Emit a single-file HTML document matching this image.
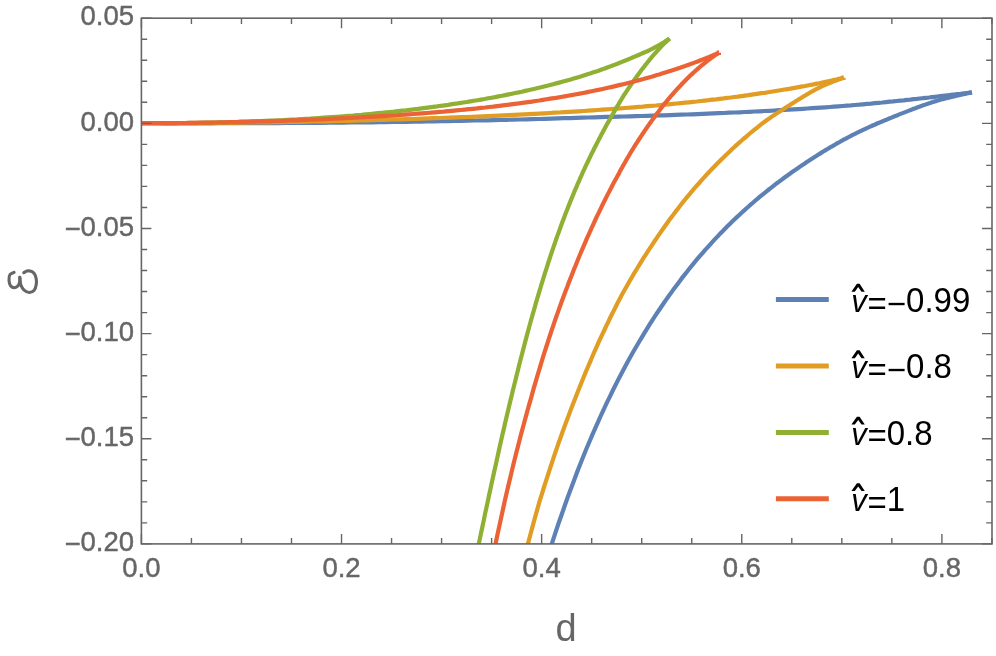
<!DOCTYPE html>
<html lang="en"><head><meta charset="utf-8"><title>E vs d plot</title>
<style>
html,body{margin:0;padding:0;background:#fff;}
body{width:996px;height:656px;overflow:hidden;font-family:"Liberation Sans",sans-serif;}
svg{display:block;will-change:transform;}
</style></head><body>
<svg width="996" height="656" viewBox="0 0 996 656">
<rect width="996" height="656" fill="#ffffff"/>
<defs><clipPath id="clip"><rect x="141.40" y="18.20" width="850.60" height="525.70"/></clipPath></defs>
<g clip-path="url(#clip)" fill="none" stroke-width="4.20" stroke-linecap="butt" stroke-linejoin="miter" stroke-miterlimit="3">
<path d="M141.4 123.2L149.2 123.2L157.0 123.2L164.8 123.3L172.5 123.3L180.3 123.3L188.0 123.3L195.6 123.3L203.3 123.3L210.9 123.3L218.5 123.2L226.1 123.2L233.6 123.2L241.1 123.2L248.6 123.2L256.1 123.2L263.5 123.1L271.0 123.1L278.3 123.1L285.7 123.0L293.0 123.0L300.4 122.9L307.6 122.9L314.9 122.8L322.1 122.8L329.3 122.7L336.5 122.7L343.7 122.6L350.8 122.5L357.9 122.4L365.0 122.4L372.0 122.3L379.0 122.2L386.0 122.1L393.0 122.0L399.9 121.9L406.8 121.8L413.7 121.7L420.5 121.6L427.3 121.5L434.1 121.3L440.9 121.2L447.6 121.1L454.3 121.0L461.0 120.8L467.7 120.7L474.3 120.5L480.9 120.4L487.4 120.3L494.0 120.1L500.5 119.9L506.9 119.8L513.4 119.6L519.8 119.5L526.2 119.3L532.5 119.1L538.8 119.0L545.1 118.8L551.4 118.6L557.6 118.4L563.8 118.2L570.0 118.1L576.1 117.9L582.2 117.7L588.3 117.5L594.3 117.3L600.3 117.1L606.3 116.9L612.3 116.8L618.2 116.6L624.0 116.5L629.9 116.3L635.7 116.2L641.5 116.0L647.2 115.8L652.9 115.6L658.6 115.4L664.3 115.3L669.9 115.1L675.4 114.9L681.0 114.7L686.5 114.5L691.9 114.3L697.4 114.1L702.8 113.9L708.1 113.6L713.5 113.4L718.8 113.2L724.0 113.0L729.2 112.7L734.4 112.5L739.6 112.3L744.7 112.0L749.7 111.8L754.7 111.5L759.7 111.3L764.7 111.0L769.6 110.8L774.5 110.5L779.3 110.2L784.1 109.9L788.8 109.7L793.6 109.4L798.2 109.1L802.9 108.8L807.4 108.5L812.0 108.2L816.5 107.9L820.9 107.6L825.4 107.3L829.7 107.0L834.1 106.7L838.3 106.4L842.6 106.0L846.8 105.7L850.9 105.4L855.0 105.0L859.1 104.7L863.1 104.3L867.0 103.9L870.9 103.6L874.8 103.2L878.6 102.8L882.3 102.5L886.0 102.1L889.7 101.7L893.3 101.4L896.8 101.0L900.3 100.6L903.7 100.3L907.1 99.9L910.4 99.6L913.7 99.2L916.9 98.9L920.0 98.5L923.1 98.2L926.1 97.8L929.1 97.5L931.9 97.1L934.8 96.8L937.5 96.5L940.2 96.2L942.8 95.9L945.3 95.6L947.7 95.3L950.1 95.0L952.4 94.7L954.6 94.5L956.7 94.2L958.7 94.0L960.6 93.8L962.4 93.5L964.1 93.3L965.7 93.2L967.2 93.0L968.5 92.8L969.6 92.7L970.6 92.6L971.4 92.5L971.8 92.5" stroke="#5E81B5"/>
<path d="M971.8 92.5L971.8 92.5L971.8 92.5L971.7 92.5L971.7 92.5L971.7 92.5L971.6 92.5L971.5 92.5L971.4 92.5L971.3 92.5L971.2 92.6L971.1 92.6L970.9 92.6L970.8 92.6L970.6 92.6L970.5 92.7L970.3 92.7L970.1 92.7L969.9 92.8L969.7 92.8L969.4 92.9L969.2 92.9L968.9 93.0L968.7 93.0L968.4 93.1L968.1 93.1L967.8 93.2L967.5 93.3L967.2 93.4L966.8 93.4L966.5 93.5L966.1 93.6L965.7 93.7L965.3 93.8L964.9 93.8L964.5 93.9L964.1 94.0L963.7 94.1L963.2 94.2L962.8 94.3L962.3 94.5L961.8 94.6L961.3 94.7L960.8 94.8L960.3 94.9L959.8 95.0L959.3 95.2L958.7 95.3L958.1 95.4L957.6 95.5L957.0 95.7L956.4 95.8L955.8 95.9L955.1 96.1L954.5 96.2L953.9 96.4L953.2 96.5L952.5 96.7L951.8 96.9L951.2 97.0L950.4 97.2L949.7 97.4L949.0 97.6L948.3 97.7L947.5 97.9L946.7 98.1L946.0 98.3L945.2 98.5L944.4 98.7L943.6 98.9L942.7 99.1L941.9 99.3L941.1 99.6L940.2 99.8L939.3 100.1L938.4 100.3L937.5 100.6L936.6 100.9L935.7 101.2L934.8 101.4L933.8 101.7L932.9 102.0L931.9 102.3L930.9 102.7L930.0 103.0L928.9 103.3L927.9 103.7L926.9 104.0L925.9 104.4L924.8 104.8L923.8 105.1L922.7 105.5L921.6 105.9L920.5 106.3L919.4 106.7L918.3 107.1L917.1 107.5L916.0 108.0L914.8 108.4L913.7 108.8L912.5 109.3L911.3 109.7L910.1 110.2L908.9 110.6L907.7 111.1L906.4 111.6L905.2 112.1L903.9 112.6L902.6 113.1L901.3 113.6L900.0 114.1L898.7 114.6L897.4 115.2L896.1 115.7L894.7 116.2L893.4 116.8L892.0 117.4L890.6 117.9L889.2 118.5L887.8 119.1L886.4 119.7L885.0 120.2L883.5 120.8L882.1 121.5L880.6 122.1L879.1 122.7L877.6 123.3L876.1 124.0L874.6 124.7L873.1 125.3L871.6 126.0L870.0 126.7L868.5 127.4L866.9 128.1L865.3 128.8L863.7 129.6L862.1 130.3L860.5 131.1L858.9 131.9L857.2 132.7L855.6 133.5L853.9 134.4L852.2 135.2L850.5 136.1L848.8 137.0L847.1 137.9L845.4 138.8L843.6 139.7L841.9 140.7L840.1 141.7L838.4 142.7L836.6 143.7L834.8 144.7L833.0 145.8L831.1 146.8L829.3 147.9L827.5 149.0L825.6 150.1L823.7 151.3L821.9 152.4L820.0 153.6L818.1 154.8L816.2 156.0L814.2 157.2L812.3 158.5L810.3 159.7L808.4 161.0L806.4 162.3L804.4 163.7L802.4 165.0L800.4 166.4L798.4 167.8L796.3 169.2L794.3 170.6L792.2 172.0L790.2 173.5L788.1 175.0L786.0 176.5L783.9 178.0L781.8 179.6L779.6 181.2L777.5 182.8L775.3 184.4L773.2 186.1L771.0 187.8L768.8 189.5L766.6 191.3L764.4 193.1L762.2 194.9L759.9 196.7L757.7 198.6L755.4 200.5L753.2 202.5L750.9 204.4L748.6 206.5L746.3 208.5L744.0 210.6L741.6 212.7L739.3 214.9L736.9 217.1L734.6 219.3L732.2 221.6L729.8 224.0L727.4 226.3L725.0 228.8L722.6 231.2L720.1 233.7L717.7 236.3L715.2 238.9L712.7 241.6L710.3 244.3L707.8 247.1L705.2 249.9L702.7 252.8L700.2 255.7L697.6 258.7L695.1 261.7L692.5 264.8L689.9 268.0L687.4 271.3L684.7 274.6L682.1 277.9L679.5 281.4L676.9 284.9L674.2 288.4L671.6 292.1L668.9 295.8L666.2 299.6L663.5 303.5L660.8 307.5L658.1 311.5L655.3 315.7L652.6 319.9L649.8 324.2L647.1 328.6L644.3 333.2L641.5 337.8L638.7 342.5L635.9 347.3L633.0 352.3L630.2 357.3L627.3 362.5L624.5 367.8L621.6 373.2L618.7 378.8L615.8 384.5L612.9 390.3L610.0 396.3L607.0 402.4L604.1 408.6L601.1 415.0L598.2 421.6L595.2 428.3L592.2 435.2L589.2 442.3L586.1 449.5L583.1 457.0L580.1 464.6L577.0 472.4L574.0 480.4L570.9 488.7L567.8 497.1L564.7 505.8L561.6 514.7L558.4 523.8L555.3 533.1L552.2 542.7L549.0 552.6L545.8 562.7L542.6 573.1L539.4 583.7L536.2 594.7L533.0 605.9" stroke="#5E81B5"/>
<path d="M141.4 123.2L148.0 123.2L154.6 123.2L161.2 123.2L167.7 123.2L174.3 123.2L180.8 123.1L187.3 123.1L193.7 123.1L200.2 123.0L206.6 123.0L213.0 122.9L219.4 122.9L225.7 122.8L232.1 122.8L238.4 122.7L244.7 122.6L251.0 122.5L257.2 122.5L263.4 122.4L269.7 122.3L275.8 122.2L282.0 122.1L288.1 122.0L294.3 121.9L300.3 121.8L306.4 121.7L312.5 121.5L318.5 121.4L324.5 121.3L330.5 121.2L336.4 121.0L342.4 120.9L348.3 120.8L354.2 120.6L360.0 120.5L365.9 120.3L371.7 120.2L377.5 120.0L383.2 119.9L389.0 119.7L394.7 119.5L400.4 119.3L406.1 119.2L411.7 119.0L417.3 118.8L422.9 118.6L428.5 118.4L434.1 118.2L439.6 118.0L445.1 117.8L450.5 117.6L456.0 117.4L461.4 117.2L466.8 117.0L472.2 116.8L477.5 116.5L482.8 116.3L488.1 116.1L493.4 115.9L498.7 115.6L503.9 115.4L509.1 115.1L514.2 114.9L519.4 114.6L524.5 114.4L529.5 114.1L534.6 113.8L539.6 113.6L544.6 113.3L549.6 113.0L554.5 112.7L559.4 112.5L564.3 112.2L569.2 111.9L574.0 111.6L578.8 111.3L583.6 111.0L588.3 110.7L593.1 110.3L597.7 110.0L602.4 109.7L607.0 109.4L611.6 109.0L616.2 108.7L620.7 108.4L625.2 108.0L629.7 107.7L634.1 107.3L638.5 106.9L642.9 106.6L647.3 106.2L651.6 105.8L655.9 105.5L660.1 105.1L664.4 104.7L668.5 104.3L672.7 103.9L676.8 103.5L680.9 103.1L685.0 102.7L689.0 102.3L693.0 101.9L696.9 101.5L700.8 101.0L704.7 100.6L708.5 100.2L712.3 99.7L716.1 99.3L719.9 98.8L723.6 98.4L727.2 97.9L730.8 97.5L734.4 97.0L738.0 96.6L741.5 96.1L744.9 95.6L748.4 95.2L751.7 94.7L755.1 94.2L758.4 93.7L761.6 93.2L764.9 92.8L768.0 92.3L771.2 91.8L774.3 91.3L777.3 90.8L780.3 90.3L783.2 89.8L786.1 89.3L789.0 88.9L791.8 88.4L794.6 87.9L797.3 87.4L799.9 86.9L802.5 86.4L805.1 86.0L807.6 85.5L810.0 85.0L812.4 84.6L814.7 84.1L816.9 83.6L819.1 83.2L821.3 82.7L823.4 82.3L825.4 81.9L827.3 81.5L829.1 81.1L830.9 80.7L832.6 80.3L834.2 79.9L835.8 79.6L837.2 79.3L838.6 78.9L839.8 78.7L840.9 78.4L841.9 78.2L842.7 77.9L843.3 77.8L843.7 77.7" stroke="#E19C24"/>
<path d="M843.7 77.7L843.7 77.7L843.7 77.7L843.7 77.7L843.6 77.7L843.6 77.7L843.5 77.7L843.5 77.8L843.4 77.8L843.3 77.8L843.3 77.8L843.2 77.9L843.1 77.9L842.9 77.9L842.8 78.0L842.7 78.0L842.5 78.1L842.4 78.1L842.2 78.2L842.1 78.2L841.9 78.3L841.7 78.4L841.5 78.4L841.3 78.5L841.1 78.6L840.9 78.7L840.7 78.8L840.4 78.8L840.2 78.9L839.9 79.0L839.7 79.1L839.4 79.2L839.1 79.4L838.8 79.5L838.5 79.6L838.2 79.7L837.9 79.8L837.5 80.0L837.2 80.1L836.9 80.2L836.5 80.3L836.1 80.5L835.8 80.6L835.4 80.8L835.0 80.9L834.6 81.1L834.2 81.2L833.8 81.4L833.3 81.6L832.9 81.7L832.5 81.9L832.0 82.1L831.5 82.3L831.1 82.5L830.6 82.7L830.1 82.9L829.6 83.1L829.1 83.3L828.6 83.5L828.0 83.7L827.5 83.9L827.0 84.1L826.4 84.3L825.8 84.6L825.3 84.8L824.7 85.1L824.1 85.3L823.5 85.6L822.9 85.9L822.3 86.1L821.7 86.4L821.0 86.7L820.4 87.0L819.7 87.3L819.1 87.6L818.4 88.0L817.7 88.3L817.0 88.7L816.3 89.1L815.6 89.5L814.9 89.9L814.2 90.2L813.5 90.7L812.7 91.1L812.0 91.5L811.2 91.9L810.4 92.4L809.7 92.8L808.9 93.3L808.1 93.7L807.3 94.2L806.5 94.7L805.6 95.2L804.8 95.7L804.0 96.2L803.1 96.7L802.2 97.2L801.4 97.8L800.5 98.3L799.6 98.9L798.7 99.4L797.8 100.0L796.9 100.5L796.0 101.1L795.1 101.7L794.1 102.3L793.2 102.9L792.2 103.5L791.2 104.1L790.3 104.7L789.3 105.4L788.3 106.0L787.3 106.6L786.3 107.3L785.2 107.9L784.2 108.6L783.2 109.2L782.1 109.9L781.1 110.6L780.0 111.2L778.9 111.9L777.8 112.6L776.8 113.4L775.7 114.1L774.5 114.9L773.4 115.6L772.3 116.3L771.2 117.1L770.0 117.9L768.8 118.7L767.7 119.5L766.5 120.3L765.3 121.2L764.1 122.1L762.9 123.0L761.7 123.9L760.5 124.8L759.3 125.8L758.0 126.8L756.8 127.8L755.5 128.8L754.3 129.8L753.0 130.9L751.7 131.9L750.4 133.0L749.1 134.1L747.8 135.2L746.5 136.4L745.2 137.5L743.8 138.6L742.5 139.8L741.1 141.0L739.8 142.2L738.4 143.4L737.0 144.7L735.6 145.9L734.2 147.2L732.8 148.5L731.4 149.8L730.0 151.2L728.6 152.5L727.1 153.9L725.7 155.3L724.2 156.7L722.7 158.2L721.2 159.6L719.8 161.1L718.3 162.6L716.8 164.1L715.2 165.7L713.7 167.3L712.2 168.8L710.6 170.4L709.1 172.1L707.5 173.7L706.0 175.4L704.4 177.2L702.8 178.9L701.2 180.7L699.6 182.5L698.0 184.3L696.3 186.1L694.7 188.0L693.1 189.9L691.4 191.9L689.8 193.9L688.1 195.9L686.4 197.9L684.7 200.0L683.0 202.1L681.3 204.3L679.6 206.5L677.9 208.7L676.2 210.9L674.4 213.2L672.7 215.6L670.9 217.9L669.1 220.3L667.4 222.8L665.6 225.3L663.8 227.8L662.0 230.3L660.2 232.9L658.3 235.6L656.5 238.3L654.7 241.0L652.8 243.8L651.0 246.6L649.1 249.4L647.2 252.3L645.3 255.3L643.4 258.2L641.5 261.3L639.6 264.4L637.7 267.5L635.8 270.7L633.8 273.9L631.9 277.2L629.9 280.6L628.0 284.0L626.0 287.5L624.0 291.0L622.0 294.6L620.1 298.2L618.1 301.9L616.2 305.7L614.3 309.6L612.3 313.5L610.3 317.5L608.4 321.6L606.4 325.7L604.4 330.0L602.3 334.3L600.3 338.7L598.2 343.2L596.2 347.8L594.1 352.4L592.0 357.2L590.0 362.1L587.9 367.0L585.7 372.1L583.6 377.3L581.5 382.6L579.3 388.0L577.1 393.5L574.9 399.2L572.6 404.9L570.4 410.8L568.1 416.9L565.8 423.0L563.5 429.3L561.2 435.8L558.8 442.4L556.5 449.2L554.1 456.1L551.8 463.2L549.4 470.4L547.0 477.9L544.5 485.5L542.1 493.3L539.6 501.2L537.3 509.4L534.9 517.8L532.6 526.4L530.2 535.2L527.8 544.2L525.4 553.5L523.0 562.9L520.6 572.7L518.2 582.6L515.8 592.9L513.4 603.4" stroke="#E19C24"/>
<path d="M141.4 123.2L146.4 123.2L151.3 123.2L156.3 123.2L161.2 123.2L166.1 123.2L171.0 123.1L175.9 123.1L180.8 123.0L185.6 123.0L190.4 122.9L195.3 122.8L200.1 122.8L204.8 122.7L209.6 122.6L214.4 122.5L219.1 122.4L223.8 122.3L228.5 122.1L233.2 122.0L237.9 121.9L242.5 121.7L247.1 121.6L251.8 121.4L256.4 121.2L260.9 121.1L265.5 120.9L270.1 120.7L274.6 120.5L279.1 120.3L283.6 120.1L288.1 119.8L292.5 119.6L297.0 119.4L301.4 119.1L305.8 118.8L310.2 118.6L314.6 118.3L318.9 118.0L323.3 117.7L327.6 117.4L331.9 117.1L336.2 116.8L340.5 116.5L344.7 116.2L348.9 115.8L353.1 115.5L357.3 115.1L361.5 114.8L365.7 114.4L369.8 114.0L373.9 113.6L378.0 113.2L382.1 112.8L386.1 112.4L390.2 112.0L394.2 111.6L398.2 111.1L402.2 110.7L406.1 110.3L410.1 109.8L414.0 109.3L417.9 108.9L421.8 108.4L425.7 107.9L429.5 107.4L433.3 106.9L437.1 106.4L440.9 105.8L444.7 105.3L448.4 104.8L452.1 104.2L455.8 103.7L459.5 103.1L463.1 102.5L466.8 102.0L470.4 101.4L474.0 100.8L477.5 100.2L481.1 99.6L484.6 99.0L488.1 98.3L491.6 97.7L495.0 97.1L498.5 96.4L501.9 95.8L505.3 95.1L508.6 94.4L512.0 93.7L515.3 93.0L518.6 92.4L521.9 91.7L525.1 90.9L528.3 90.2L531.5 89.5L534.7 88.8L537.9 88.0L541.0 87.3L544.1 86.5L547.2 85.8L550.2 85.0L553.2 84.2L556.2 83.4L559.2 82.6L562.1 81.8L565.1 81.0L567.9 80.2L570.8 79.4L573.6 78.6L576.5 77.7L579.2 76.9L582.0 76.1L584.7 75.2L587.4 74.3L590.1 73.5L592.7 72.6L595.3 71.7L597.9 70.9L600.4 70.0L603.0 69.1L605.4 68.2L607.9 67.3L610.3 66.4L612.7 65.5L615.0 64.6L617.4 63.7L619.7 62.8L621.9 61.9L624.1 61.0L626.3 60.1L628.5 59.2L630.6 58.4L632.6 57.5L634.7 56.6L636.7 55.8L638.6 55.0L640.5 54.1L642.4 53.3L644.2 52.5L646.0 51.8L647.8 51.0L649.5 50.2L651.1 49.4L652.7 48.5L654.3 47.7L655.8 46.9L657.3 46.1L658.6 45.4L660.0 44.6L661.3 43.9L662.5 43.1L663.6 42.4L664.7 41.7L665.7 41.0L666.7 40.4L667.5 39.9L668.2 39.4L668.9 39.0L669.3 38.7L669.6 38.5" stroke="#8FB032"/>
<path d="M669.6 38.5L669.6 38.5L669.6 38.5L669.6 38.5L669.6 38.5L669.6 38.5L669.5 38.6L669.5 38.6L669.5 38.6L669.4 38.7L669.4 38.7L669.4 38.7L669.3 38.8L669.2 38.9L669.2 38.9L669.1 39.0L669.1 39.0L669.0 39.1L668.9 39.2L668.8 39.3L668.7 39.4L668.6 39.4L668.5 39.5L668.4 39.6L668.3 39.7L668.2 39.8L668.1 39.9L668.0 40.0L667.9 40.1L667.7 40.2L667.6 40.3L667.5 40.5L667.3 40.6L667.2 40.7L667.0 40.8L666.9 41.0L666.7 41.1L666.6 41.3L666.4 41.4L666.3 41.6L666.1 41.7L665.9 41.9L665.7 42.1L665.5 42.2L665.4 42.4L665.2 42.6L665.0 42.7L664.8 42.9L664.6 43.1L664.4 43.3L664.2 43.5L663.9 43.7L663.7 43.9L663.5 44.1L663.3 44.4L663.0 44.6L662.8 44.9L662.6 45.1L662.3 45.4L662.0 45.6L661.8 45.9L661.5 46.2L661.3 46.5L661.0 46.8L660.7 47.0L660.4 47.3L660.1 47.6L659.9 48.0L659.6 48.3L659.3 48.6L659.0 49.0L658.7 49.3L658.3 49.7L658.0 50.0L657.7 50.4L657.3 50.8L657.0 51.2L656.6 51.6L656.3 52.0L655.9 52.4L655.5 52.8L655.1 53.3L654.7 53.7L654.2 54.2L653.8 54.7L653.4 55.2L652.9 55.7L652.5 56.2L652.0 56.8L651.6 57.3L651.1 57.9L650.7 58.4L650.2 59.0L649.7 59.6L649.3 60.2L648.8 60.8L648.3 61.5L647.7 62.1L647.2 62.8L646.7 63.5L646.1 64.2L645.5 64.9L644.9 65.6L644.4 66.4L643.8 67.2L643.1 67.9L642.5 68.7L641.9 69.5L641.3 70.3L640.7 71.1L640.1 72.0L639.5 72.8L638.8 73.7L638.2 74.5L637.6 75.4L636.9 76.3L636.3 77.2L635.6 78.1L634.9 79.0L634.3 80.0L633.6 80.9L632.9 81.9L632.3 82.9L631.6 83.8L630.9 84.8L630.2 85.8L629.5 86.9L628.8 87.9L628.1 88.9L627.4 90.0L626.7 91.1L626.0 92.1L625.3 93.2L624.5 94.3L623.8 95.4L623.1 96.6L622.4 97.7L621.7 98.9L621.0 100.0L620.3 101.2L619.6 102.4L618.9 103.6L618.2 104.8L617.4 106.1L616.7 107.3L616.0 108.6L615.2 109.8L614.5 111.1L613.7 112.4L613.0 113.7L612.2 115.1L611.4 116.4L610.7 117.8L609.9 119.2L609.1 120.6L608.3 122.0L607.5 123.4L606.7 124.8L605.9 126.3L605.1 127.8L604.3 129.3L603.5 130.8L602.7 132.3L601.8 133.8L601.0 135.4L600.2 137.0L599.3 138.6L598.5 140.2L597.6 141.9L596.8 143.6L595.9 145.2L595.0 147.0L594.1 148.7L593.3 150.5L592.4 152.2L591.5 154.0L590.6 155.9L589.7 157.7L588.8 159.6L587.9 161.5L587.0 163.4L586.0 165.4L585.1 167.4L584.2 169.4L583.2 171.4L582.3 173.5L581.4 175.6L580.4 177.7L579.5 179.9L578.5 182.1L577.5 184.3L576.6 186.6L575.6 188.9L574.6 191.2L573.6 193.6L572.6 196.0L571.6 198.4L570.6 200.9L569.6 203.4L568.6 205.9L567.6 208.5L566.6 211.1L565.5 213.8L564.5 216.5L563.5 219.2L562.4 222.0L561.4 224.8L560.3 227.7L559.3 230.6L558.2 233.6L557.1 236.6L556.0 239.7L555.0 242.8L553.9 245.9L552.8 249.1L551.7 252.4L550.6 255.7L549.5 259.0L548.4 262.4L547.3 265.9L546.2 269.4L545.0 272.9L543.9 276.5L542.8 280.2L541.6 283.9L540.5 287.7L539.3 291.5L538.2 295.4L537.0 299.4L535.8 303.4L534.7 307.4L533.5 311.6L532.3 315.7L531.1 320.0L529.9 324.3L528.7 328.7L527.5 333.1L526.3 337.6L525.1 342.1L523.9 346.7L522.7 351.4L521.5 356.1L520.2 360.9L519.0 365.8L517.8 370.7L516.5 375.7L515.3 380.8L514.0 385.9L512.7 391.1L511.5 396.3L510.2 401.6L508.9 407.0L507.6 412.4L506.3 417.9L505.0 423.5L503.8 429.1L502.4 434.8L501.1 440.5L499.8 446.3L498.5 452.2L497.2 458.1L495.9 464.1L494.5 470.2L493.2 476.3L491.8 482.5L490.5 488.7L489.1 495.0L487.8 501.3L486.4 507.7L485.0 514.1L483.7 520.6L482.3 527.2L480.9 533.7L479.5 540.4L478.1 547.1L476.7 553.8L475.3 560.6L473.9 567.4L472.5 574.2L471.1 581.1L469.6 588.0L468.2 595.0L466.8 601.9" stroke="#8FB032"/>
<path d="M141.4 123.2L146.8 123.2L152.3 123.2L157.7 123.2L163.1 123.2L168.4 123.1L173.8 123.1L179.1 123.0L184.4 123.0L189.7 122.9L195.0 122.8L200.3 122.7L205.5 122.7L210.8 122.6L216.0 122.5L221.2 122.4L226.4 122.3L231.5 122.2L236.7 122.1L241.8 121.9L246.9 121.8L252.0 121.7L257.0 121.5L262.1 121.4L267.1 121.3L272.1 121.1L277.1 120.9L282.1 120.8L287.0 120.6L292.0 120.4L296.9 120.3L301.8 120.1L306.7 119.9L311.5 119.7L316.4 119.5L321.2 119.3L326.0 119.1L330.8 118.9L335.5 118.7L340.3 118.4L345.0 118.2L349.7 118.0L354.4 117.7L359.1 117.5L363.7 117.2L368.3 116.9L372.9 116.7L377.5 116.4L382.1 116.1L386.6 115.8L391.2 115.6L395.7 115.3L400.1 115.0L404.6 114.6L409.0 114.3L413.5 114.0L417.8 113.7L422.2 113.3L426.6 113.0L430.9 112.7L435.2 112.3L439.5 111.9L443.8 111.6L448.0 111.2L452.2 110.8L456.4 110.4L460.6 110.0L464.8 109.6L468.9 109.2L473.0 108.8L477.1 108.4L481.2 107.9L485.2 107.5L489.2 107.0L493.2 106.6L497.2 106.1L501.2 105.6L505.1 105.1L509.0 104.7L512.9 104.2L516.7 103.7L520.5 103.1L524.3 102.6L528.1 102.1L531.9 101.6L535.6 101.0L539.3 100.5L543.0 99.9L546.6 99.3L550.3 98.7L553.9 98.2L557.5 97.6L561.0 97.0L564.5 96.4L568.0 95.7L571.5 95.1L574.9 94.5L578.4 93.9L581.7 93.2L585.1 92.6L588.4 91.9L591.7 91.2L595.0 90.5L598.3 89.9L601.5 89.2L604.7 88.5L607.8 87.8L611.0 87.1L614.1 86.4L617.1 85.6L620.2 84.9L623.2 84.2L626.2 83.5L629.1 82.7L632.0 82.0L634.9 81.2L637.8 80.5L640.6 79.7L643.4 79.0L646.1 78.2L648.8 77.4L651.5 76.7L654.2 75.9L656.8 75.1L659.3 74.4L661.9 73.6L664.4 72.8L666.8 72.1L669.3 71.3L671.7 70.5L674.0 69.8L676.3 69.0L678.6 68.2L680.8 67.5L683.0 66.7L685.1 66.0L687.2 65.2L689.3 64.5L691.3 63.8L693.2 63.1L695.1 62.4L697.0 61.7L698.8 61.0L700.6 60.3L702.3 59.6L703.9 59.0L705.5 58.4L707.0 57.8L708.5 57.2L709.9 56.6L711.2 56.0L712.5 55.5L713.7 55.0L714.8 54.5L715.8 54.1L716.7 53.7L717.5 53.4L718.2 53.1L718.7 52.8L719.0 52.7" stroke="#EB6235"/>
<path d="M719.0 52.7L719.0 52.7L719.0 52.7L719.0 52.7L719.0 52.7L718.9 52.7L718.9 52.8L718.8 52.8L718.8 52.8L718.7 52.8L718.7 52.9L718.6 52.9L718.6 52.9L718.5 53.0L718.4 53.0L718.3 53.1L718.2 53.1L718.1 53.2L718.0 53.3L717.9 53.3L717.8 53.4L717.6 53.5L717.5 53.6L717.4 53.7L717.2 53.8L717.1 53.9L716.9 54.0L716.7 54.1L716.6 54.2L716.4 54.3L716.2 54.4L716.0 54.6L715.8 54.7L715.6 54.8L715.4 55.0L715.2 55.1L715.0 55.3L714.8 55.4L714.5 55.6L714.3 55.8L714.0 55.9L713.8 56.1L713.5 56.3L713.3 56.5L713.0 56.7L712.7 56.9L712.4 57.1L712.1 57.3L711.9 57.5L711.5 57.7L711.2 58.0L710.9 58.2L710.6 58.4L710.3 58.7L710.0 58.9L709.6 59.2L709.3 59.4L708.9 59.7L708.6 60.0L708.2 60.3L707.8 60.5L707.5 60.8L707.1 61.1L706.7 61.4L706.3 61.7L705.9 62.1L705.5 62.4L705.1 62.7L704.7 63.1L704.2 63.4L703.8 63.7L703.4 64.1L702.9 64.5L702.5 64.8L702.0 65.2L701.5 65.6L701.1 66.0L700.6 66.4L700.1 66.8L699.6 67.2L699.1 67.6L698.6 68.1L698.1 68.5L697.6 68.9L697.1 69.4L696.6 69.8L696.0 70.3L695.5 70.8L695.0 71.3L694.4 71.8L693.9 72.3L693.3 72.8L692.7 73.3L692.2 73.9L691.6 74.4L691.0 74.9L690.4 75.5L689.8 76.1L689.2 76.7L688.6 77.2L688.0 77.9L687.3 78.5L686.7 79.1L686.1 79.7L685.4 80.4L684.8 81.0L684.1 81.7L683.5 82.4L682.8 83.0L682.1 83.7L681.5 84.5L680.8 85.2L680.1 85.9L679.4 86.7L678.7 87.4L678.0 88.2L677.2 89.0L676.5 89.8L675.8 90.6L675.1 91.4L674.3 92.2L673.6 93.1L672.8 94.0L672.1 94.8L671.3 95.7L670.5 96.6L669.7 97.5L669.0 98.5L668.2 99.4L667.4 100.4L666.6 101.4L665.7 102.4L664.9 103.4L664.1 104.4L663.3 105.4L662.4 106.5L661.6 107.6L660.8 108.6L659.9 109.7L659.0 110.9L658.2 112.0L657.3 113.1L656.4 114.3L655.5 115.5L654.7 116.7L653.8 117.9L652.9 119.2L651.9 120.4L651.0 121.7L650.1 123.0L649.2 124.3L648.2 125.6L647.3 127.0L646.4 128.4L645.4 129.7L644.4 131.1L643.5 132.6L642.5 134.0L641.5 135.5L640.6 137.0L639.6 138.5L638.6 140.0L637.6 141.6L636.6 143.1L635.5 144.7L634.5 146.3L633.5 148.0L632.5 149.6L631.4 151.3L630.4 153.0L629.4 154.8L628.4 156.5L627.3 158.3L626.3 160.1L625.3 161.9L624.2 163.7L623.1 165.6L622.1 167.5L621.0 169.4L619.9 171.4L618.9 173.4L617.8 175.4L616.7 177.4L615.6 179.4L614.4 181.5L613.3 183.6L612.2 185.8L611.1 188.0L609.9 190.2L608.8 192.4L607.6 194.6L606.5 196.9L605.3 199.3L604.1 201.6L602.9 204.0L601.8 206.4L600.6 208.9L599.4 211.4L598.2 213.9L596.9 216.4L595.7 219.0L594.5 221.7L593.3 224.3L592.0 227.0L590.8 229.8L589.6 232.5L588.3 235.4L587.0 238.2L585.8 241.1L584.5 244.1L583.2 247.1L581.9 250.1L580.6 253.2L579.3 256.3L578.0 259.5L576.7 262.7L575.4 266.0L574.0 269.3L572.7 272.7L571.4 276.1L570.0 279.6L568.6 283.1L567.3 286.7L565.9 290.3L564.5 294.0L563.1 297.8L561.7 301.6L560.3 305.5L558.9 309.4L557.5 313.4L556.0 317.5L554.6 321.6L553.2 325.8L551.7 330.1L550.3 334.5L548.8 338.9L547.4 343.4L545.9 348.0L544.4 352.7L542.9 357.4L541.5 362.2L540.0 367.2L538.5 372.2L537.0 377.2L535.5 382.4L533.9 387.7L532.4 393.1L530.9 398.6L529.3 404.1L527.7 409.8L526.1 415.6L524.5 421.5L522.9 427.5L521.2 433.6L519.6 439.9L518.0 446.2L516.3 452.7L514.7 459.3L513.0 466.0L511.4 472.9L509.7 479.9L508.0 487.0L506.3 494.3L504.6 501.7L503.0 509.3L501.3 517.0L499.6 524.9L497.8 533.0L496.1 541.2L494.5 549.6L492.8 558.1L491.1 566.8L489.4 575.7L487.7 584.8L486.0 594.1L484.3 603.6" stroke="#EB6235"/>
</g>
<g stroke="#666666" fill="none">
<rect x="141.40" y="18.20" width="850.60" height="525.70" stroke-width="1.60"/>
<path d="M141.40 543.90V533.90M141.40 18.20V28.20M191.43 543.90V538.10M191.43 18.20V24.00M241.46 543.90V538.10M241.46 18.20V24.00M291.49 543.90V538.10M291.49 18.20V24.00M341.52 543.90V533.90M341.52 18.20V28.20M391.55 543.90V538.10M391.55 18.20V24.00M441.58 543.90V538.10M441.58 18.20V24.00M491.61 543.90V538.10M491.61 18.20V24.00M541.64 543.90V533.90M541.64 18.20V28.20M591.67 543.90V538.10M591.67 18.20V24.00M641.70 543.90V538.10M641.70 18.20V24.00M691.73 543.90V538.10M691.73 18.20V24.00M741.76 543.90V533.90M741.76 18.20V28.20M791.79 543.90V538.10M791.79 18.20V24.00M841.82 543.90V538.10M841.82 18.20V24.00M891.85 543.90V538.10M891.85 18.20V24.00M941.88 543.90V533.90M941.88 18.20V28.20M991.91 543.90V538.10M991.91 18.20V24.00M141.40 18.20H151.40M992.00 18.20H982.00M141.40 39.23H147.20M992.00 39.23H986.20M141.40 60.26H147.20M992.00 60.26H986.20M141.40 81.28H147.20M992.00 81.28H986.20M141.40 102.31H147.20M992.00 102.31H986.20M141.40 123.34H151.40M992.00 123.34H982.00M141.40 144.37H147.20M992.00 144.37H986.20M141.40 165.40H147.20M992.00 165.40H986.20M141.40 186.42H147.20M992.00 186.42H986.20M141.40 207.45H147.20M992.00 207.45H986.20M141.40 228.48H151.40M992.00 228.48H982.00M141.40 249.51H147.20M992.00 249.51H986.20M141.40 270.54H147.20M992.00 270.54H986.20M141.40 291.56H147.20M992.00 291.56H986.20M141.40 312.59H147.20M992.00 312.59H986.20M141.40 333.62H151.40M992.00 333.62H982.00M141.40 354.65H147.20M992.00 354.65H986.20M141.40 375.68H147.20M992.00 375.68H986.20M141.40 396.70H147.20M992.00 396.70H986.20M141.40 417.73H147.20M992.00 417.73H986.20M141.40 438.76H151.40M992.00 438.76H982.00M141.40 459.79H147.20M992.00 459.79H986.20M141.40 480.82H147.20M992.00 480.82H986.20M141.40 501.84H147.20M992.00 501.84H986.20M141.40 522.87H147.20M992.00 522.87H986.20M141.40 543.90H151.40M992.00 543.90H982.00" stroke-width="1.40"/>
</g>
<g font-family="Liberation Sans, sans-serif" font-size="27.5" fill="#666666" stroke="#666666" stroke-width="0.45">
<text x="141.40" y="577.3" text-anchor="middle">0.0</text>
<text x="341.52" y="577.3" text-anchor="middle">0.2</text>
<text x="541.64" y="577.3" text-anchor="middle">0.4</text>
<text x="741.76" y="577.3" text-anchor="middle">0.6</text>
<text x="941.88" y="577.3" text-anchor="middle">0.8</text>
<text x="134.0" y="25.40" text-anchor="end">0.05</text>
<text x="134.0" y="130.54" text-anchor="end">0.00</text>
<text x="134.0" y="235.68" text-anchor="end"><tspan dy="2.3">&#8722;</tspan><tspan dy="-2.3">0.05</tspan></text>
<text x="134.0" y="340.82" text-anchor="end"><tspan dy="2.3">&#8722;</tspan><tspan dy="-2.3">0.10</tspan></text>
<text x="134.0" y="445.96" text-anchor="end"><tspan dy="2.3">&#8722;</tspan><tspan dy="-2.3">0.15</tspan></text>
<text x="134.0" y="551.10" text-anchor="end"><tspan dy="2.3">&#8722;</tspan><tspan dy="-2.3">0.20</tspan></text>
</g>
<text x="566" y="641.3" font-family="Liberation Sans, sans-serif" font-size="38" fill="#666666" text-anchor="middle">d</text>
<g fill="none" stroke="#666666" stroke-width="3.1" stroke-linecap="round" stroke-linejoin="round">
<path d="M14.10 272.40 C12.77 273.07 10.96 273.27 10.10 274.40 C9.12 275.69 8.92 278.19 9.00 280.10 C9.08 282.08 9.60 284.82 10.70 286.10 C11.59 287.14 13.18 287.84 14.40 287.80 C15.64 287.76 17.21 286.82 18.10 285.80 C19.05 284.72 19.53 282.86 19.80 281.40 C20.05 280.06 19.80 278.73 19.80 277.40"/>
<path d="M19.80 277.40 C20.13 279.87 20.02 282.60 20.80 284.80 C21.52 286.83 22.61 288.91 24.10 290.20 C25.54 291.44 27.77 292.55 29.50 292.50 C31.13 292.46 33.09 291.43 34.20 290.20 C35.37 288.91 35.86 286.68 36.20 284.80 C36.54 282.88 36.54 280.72 36.20 278.80 C35.86 276.92 35.30 274.70 34.20 273.40 C33.21 272.23 31.53 271.45 30.20 271.10 C29.06 270.80 27.87 270.83 26.80 271.10 C25.73 271.37 24.80 272.17 23.80 272.70"/>
</g>
<line x1="775.9" x2="828.8" y1="299.50" y2="299.50" stroke="#5E81B5" stroke-width="5.0"/>
<g font-family="Liberation Sans, sans-serif" font-size="33.0" fill="#000"><text x="851.3" y="312.00" font-style="italic" font-size="31">v</text><text x="867.50" y="314.50">=&#8722;</text><text transform="translate(906.04 312.00) scale(1 1.07)">0.99</text></g>
<path d="M851.40 291.70 L856.90 283.80 L859.60 283.80 L864.80 291.70 L861.50 291.70 L858.20 287.10 L854.80 291.70 Z" fill="#000"/>
<line x1="775.9" x2="828.8" y1="365.95" y2="365.95" stroke="#E19C24" stroke-width="5.0"/>
<g font-family="Liberation Sans, sans-serif" font-size="33.0" fill="#000"><text x="851.3" y="378.45" font-style="italic" font-size="31">v</text><text x="867.50" y="380.95">=&#8722;</text><text transform="translate(906.04 378.45) scale(1 1.07)">0.8</text></g>
<path d="M851.40 358.15 L856.90 350.25 L859.60 350.25 L864.80 358.15 L861.50 358.15 L858.20 353.55 L854.80 358.15 Z" fill="#000"/>
<line x1="775.9" x2="828.8" y1="432.40" y2="432.40" stroke="#8FB032" stroke-width="5.0"/>
<g font-family="Liberation Sans, sans-serif" font-size="33.0" fill="#000"><text x="851.3" y="444.90" font-style="italic" font-size="31">v</text><text x="867.50" y="447.40">=</text><text transform="translate(886.77 444.90) scale(1 1.07)">0.8</text></g>
<path d="M851.40 424.60 L856.90 416.70 L859.60 416.70 L864.80 424.60 L861.50 424.60 L858.20 420.00 L854.80 424.60 Z" fill="#000"/>
<line x1="775.9" x2="828.8" y1="498.85" y2="498.85" stroke="#EB6235" stroke-width="5.0"/>
<g font-family="Liberation Sans, sans-serif" font-size="33.0" fill="#000"><text x="851.3" y="511.35" font-style="italic" font-size="31">v</text><text x="867.50" y="513.85">=</text><text transform="translate(886.77 511.35) scale(1 1.07)">1</text></g>
<path d="M851.40 491.05 L856.90 483.15 L859.60 483.15 L864.80 491.05 L861.50 491.05 L858.20 486.45 L854.80 491.05 Z" fill="#000"/>
</svg>
</body></html>
